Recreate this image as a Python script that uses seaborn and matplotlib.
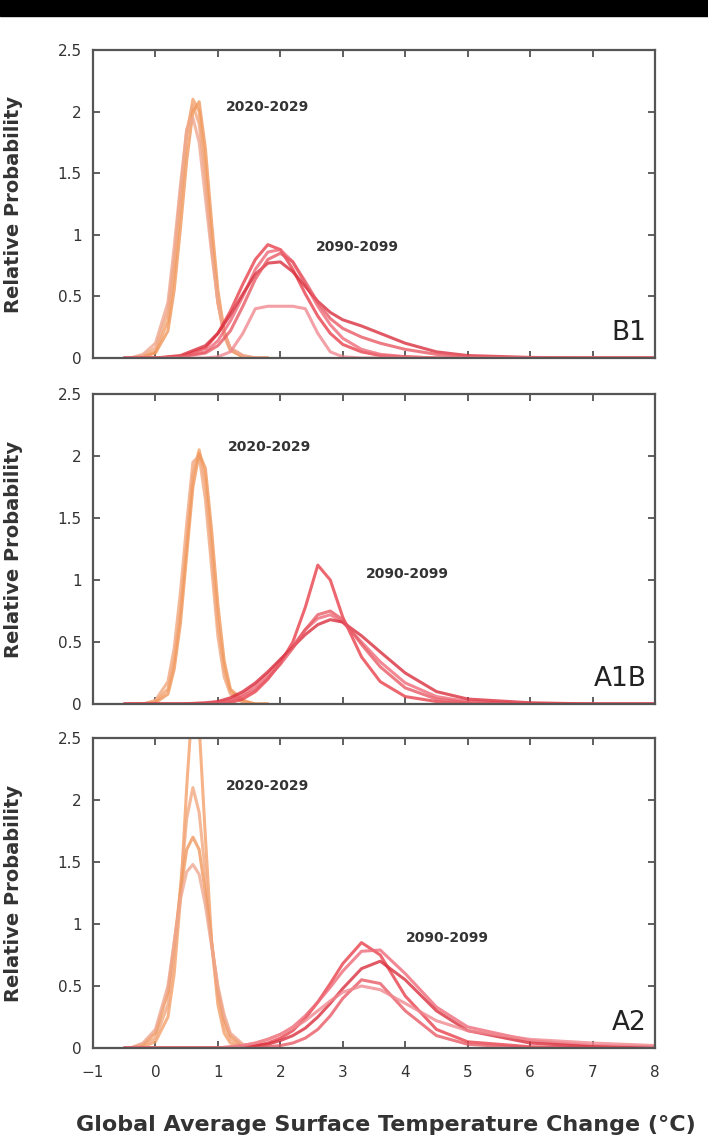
import numpy as np
import pandas as pd
import matplotlib
matplotlib.use('Agg')
import matplotlib.pyplot as plt
import seaborn as sns

# temperature grids (deg C)
x_near = [-0.4, -0.2, 0.0, 0.2, 0.3, 0.4, 0.5, 0.6, 0.7, 0.8, 0.9, 1.0, 1.1, 1.2, 1.4, 1.6, 1.8]
x_far = [-0.5, 0.0, 0.4, 0.8, 1.0, 1.2, 1.4, 1.6, 1.8, 2.0, 2.2, 2.4, 2.6, 2.8, 3.0, 3.3, 3.6, 4.0, 4.5, 5.0, 6.0, 7.0, 8.0]

# B1 scenario
b1_near_a = [0, 0.01, 0.05, 0.3, 0.7, 1.25, 1.8, 2.1, 2.0, 1.55, 0.95, 0.45, 0.18, 0.06, 0.01, 0, 0]
b1_near_b = [0, 0.02, 0.08, 0.38, 0.8, 1.35, 1.85, 2.05, 1.9, 1.45, 0.9, 0.45, 0.2, 0.08, 0.02, 0, 0]
b1_near_c = [0, 0.01, 0.04, 0.22, 0.55, 1.05, 1.6, 2.0, 2.08, 1.7, 1.1, 0.55, 0.22, 0.07, 0.01, 0, 0]
b1_near_d = [0, 0.03, 0.12, 0.45, 0.9, 1.4, 1.85, 1.95, 1.75, 1.3, 0.85, 0.45, 0.2, 0.08, 0.02, 0, 0]
b1_far_a = [0, 0, 0.01, 0.08, 0.2, 0.38, 0.6, 0.8, 0.92, 0.88, 0.72, 0.52, 0.34, 0.2, 0.11, 0.05, 0.02, 0.01, 0, 0, 0, 0, 0]
b1_far_b = [0, 0, 0.01, 0.05, 0.14, 0.3, 0.5, 0.72, 0.86, 0.88, 0.78, 0.6, 0.42, 0.27, 0.16, 0.07, 0.03, 0.01, 0, 0, 0, 0, 0]
b1_far_c = [0, 0, 0.02, 0.1, 0.2, 0.35, 0.52, 0.68, 0.77, 0.78, 0.7, 0.58, 0.46, 0.37, 0.31, 0.26, 0.2, 0.12, 0.05, 0.02, 0.005, 0, 0]
b1_far_d = [0, 0, 0.01, 0.04, 0.1, 0.22, 0.42, 0.64, 0.8, 0.85, 0.78, 0.62, 0.45, 0.32, 0.24, 0.17, 0.12, 0.07, 0.03, 0.01, 0, 0, 0]
b1_far_e = [0, 0, 0, 0, 0.01, 0.05, 0.2, 0.4, 0.42, 0.42, 0.42, 0.4, 0.2, 0.05, 0.01, 0, 0, 0, 0, 0, 0, 0, 0]

# A1B scenario
a1b_near_a = [0, 0, 0.02, 0.12, 0.35, 0.75, 1.3, 1.85, 2.05, 1.8, 1.25, 0.65, 0.28, 0.1, 0.02, 0, 0]
a1b_near_b = [0, 0, 0.03, 0.18, 0.45, 0.9, 1.45, 1.95, 2.0, 1.65, 1.1, 0.55, 0.22, 0.08, 0.01, 0, 0]
a1b_near_c = [0, 0, 0.01, 0.08, 0.28, 0.65, 1.2, 1.75, 2.02, 1.9, 1.4, 0.8, 0.35, 0.12, 0.03, 0, 0]
a1b_far_a = [0, 0, 0, 0, 0, 0.01, 0.04, 0.1, 0.2, 0.33, 0.5, 0.78, 1.12, 1.0, 0.7, 0.38, 0.18, 0.06, 0.02, 0, 0, 0, 0]
a1b_far_b = [0, 0, 0, 0, 0.01, 0.03, 0.08, 0.15, 0.24, 0.35, 0.47, 0.6, 0.69, 0.72, 0.66, 0.5, 0.34, 0.17, 0.06, 0.02, 0, 0, 0]
a1b_far_c = [0, 0, 0, 0.01, 0.02, 0.05, 0.1, 0.17, 0.26, 0.36, 0.46, 0.56, 0.64, 0.68, 0.66, 0.55, 0.42, 0.25, 0.1, 0.04, 0.01, 0, 0]
a1b_far_d = [0, 0, 0, 0, 0.01, 0.02, 0.06, 0.12, 0.21, 0.32, 0.45, 0.6, 0.72, 0.75, 0.68, 0.48, 0.3, 0.13, 0.04, 0.01, 0, 0, 0]

# A2 scenario
a2_near_a = [0, 0.01, 0.05, 0.25, 0.6, 1.2, 2.1, 2.85, 2.6, 1.7, 0.85, 0.35, 0.12, 0.04, 0.01, 0, 0]
a2_near_b = [0, 0.02, 0.08, 0.35, 0.75, 1.3, 1.85, 2.1, 1.9, 1.4, 0.85, 0.42, 0.18, 0.07, 0.01, 0, 0]
a2_near_c = [0, 0.03, 0.12, 0.45, 0.85, 1.25, 1.6, 1.7, 1.6, 1.25, 0.85, 0.48, 0.23, 0.1, 0.02, 0, 0]
a2_near_d = [0, 0.04, 0.15, 0.5, 0.85, 1.2, 1.42, 1.48, 1.4, 1.15, 0.82, 0.5, 0.27, 0.12, 0.03, 0.01, 0]
a2_far_a = [0, 0, 0, 0, 0, 0, 0.01, 0.02, 0.04, 0.08, 0.14, 0.24, 0.37, 0.52, 0.68, 0.85, 0.75, 0.42, 0.15, 0.05, 0.01, 0, 0]
a2_far_b = [0, 0, 0, 0, 0, 0.01, 0.02, 0.04, 0.07, 0.11, 0.17, 0.26, 0.37, 0.49, 0.62, 0.78, 0.79, 0.6, 0.33, 0.17, 0.06, 0.02, 0.01]
a2_far_c = [0, 0, 0, 0, 0, 0, 0.01, 0.02, 0.03, 0.06, 0.1, 0.16, 0.25, 0.36, 0.48, 0.64, 0.7, 0.55, 0.3, 0.14, 0.04, 0.01, 0]
a2_far_d = [0, 0, 0, 0, 0, 0, 0, 0, 0.01, 0.02, 0.04, 0.08, 0.15, 0.26, 0.4, 0.55, 0.52, 0.3, 0.1, 0.03, 0, 0, 0]
a2_far_e = [0, 0, 0, 0, 0, 0.01, 0.02, 0.04, 0.07, 0.11, 0.16, 0.22, 0.3, 0.38, 0.45, 0.5, 0.47, 0.36, 0.22, 0.14, 0.07, 0.04, 0.02]

scenarios = ['B1', 'A1B', 'A2']
near_curves = {
    'B1': [b1_near_a, b1_near_b, b1_near_c, b1_near_d],
    'A1B': [a1b_near_a, a1b_near_b, a1b_near_c],
    'A2': [a2_near_a, a2_near_b, a2_near_c, a2_near_d],
}
far_curves = {
    'B1': [b1_far_a, b1_far_b, b1_far_c, b1_far_d, b1_far_e],
    'A1B': [a1b_far_a, a1b_far_b, a1b_far_c, a1b_far_d],
    'A2': [a2_far_a, a2_far_b, a2_far_c, a2_far_d, a2_far_e],
}
# label positions (x, y) for period labels
near_label_pos = {'B1': (1.8, 2.04), 'A1B': (1.83, 2.07), 'A2': (1.8, 2.11)}
far_label_pos = {'B1': (3.24, 0.9), 'A1B': (4.04, 1.05), 'A2': (4.67, 0.89)}

x_ticks = [-1, 0, 1, 2, 3, 4, 5, 6, 7, 8]
y_ticks = [0, 0.5, 1, 1.5, 2, 2.5]
y_tick_labels = ['0', '0.5', '1', '1.5', '2', '2.5']

orange_cols = ['#F4A06A', '#F2A880', '#F0985C', '#EFA890']
red_cols = ['#E8414B', '#EE6A78', '#D9303E', '#E85A66', '#F08890']

sns.set_style('ticks')
plt.rcParams['font.family'] = ['DejaVu Sans']

fig = plt.figure(figsize=(7.08, 11.46), dpi=100)
# black band at top
fig.patches.append(plt.Rectangle((0, 1 - 16 / 1146), 1, 16 / 1146, transform=fig.transFigure,
                                 color='black', zorder=0))

ax_rects = [
    [93 / 708, 1 - 358 / 1146, 562 / 708, 308 / 1146],
    [93 / 708, 1 - 704 / 1146, 562 / 708, 310 / 1146],
    [93 / 708, 1 - 1048 / 1146, 562 / 708, 310 / 1146],
]

for rect, sc in zip(ax_rects, scenarios):
    ax = fig.add_axes(rect)
    rows = []
    for i, c in enumerate(near_curves[sc]):
        rows.append(pd.DataFrame({'x': x_near, 'y': c, 'curve': 'n%d' % i}))
    for i, c in enumerate(far_curves[sc]):
        rows.append(pd.DataFrame({'x': x_far, 'y': c, 'curve': 'f%d' % i}))
    df = pd.concat(rows, ignore_index=True)
    pal = {}
    for i in range(len(near_curves[sc])):
        pal['n%d' % i] = orange_cols[i % len(orange_cols)]
    for i in range(len(far_curves[sc])):
        pal['f%d' % i] = red_cols[i % len(red_cols)]
    sns.lineplot(data=df, x='x', y='y', hue='curve', palette=pal, ax=ax,
                 linewidth=2.2, alpha=0.8, legend=False, sort=False, estimator=None)

    ax.set_xlim(-1, 8)
    ax.set_ylim(0, 2.5)
    ax.set_xticks(x_ticks)
    ax.set_yticks(y_ticks)
    ax.set_yticklabels(y_tick_labels)
    ax.tick_params(direction='in', top=True, right=True, length=5, width=1.2,
                   labelsize=11, colors='#444444', labelcolor='#333333')
    ax.tick_params(axis='x', pad=12)
    ax.tick_params(axis='y', pad=8)
    if sc != 'A2':
        ax.set_xticklabels([])
    ax.set_xlabel('')
    ax.set_ylabel('Relative Probability', fontsize=14, fontweight='bold', color='#333333')
    ax.yaxis.set_label_coords(-0.125, 0.5)
    for sp in ax.spines.values():
        sp.set_color('#555555')
        sp.set_linewidth(1.6)

    nx, ny = near_label_pos[sc]
    ax.text(nx, ny, '2020-2029', fontsize=10, fontweight='bold', color='#333333',
            ha='center', va='center')
    fx, fy = far_label_pos[sc]
    ax.text(fx, fy, '2090-2099', fontsize=10, fontweight='bold', color='#333333',
            ha='center', va='center')
    ax.text(0.985, 0.04, sc, transform=ax.transAxes, fontsize=19, color='#222222',
            ha='right', va='bottom')

fig.text(386 / 708, 1 - 1125 / 1146, 'Global Average Surface Temperature Change (\u00b0C)',
         fontsize=16, fontweight='bold', color='#333333', ha='center', va='center')

fig.savefig('out.png', dpi=100)
